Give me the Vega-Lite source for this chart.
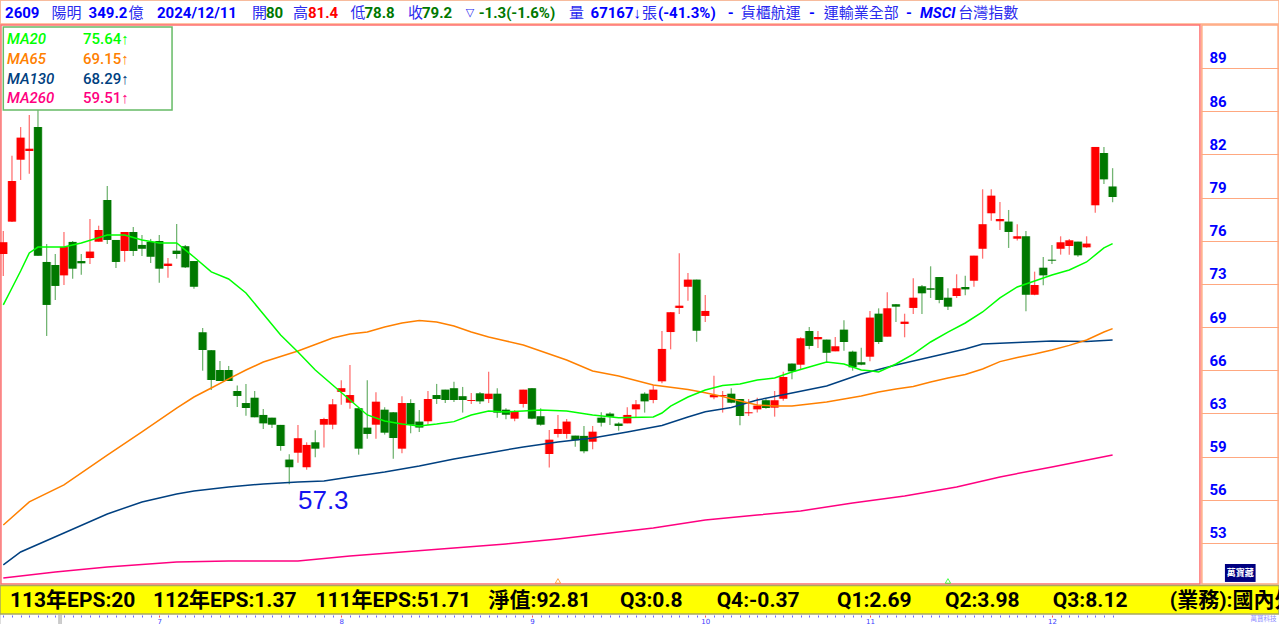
{
  "$schema": "https://vega.github.io/schema/vega-lite/v6.json",
  "description": "2609 daily candlesticks with MA20, MA65, MA130 and MA260",
  "width": 1279,
  "height": 624,
  "padding": 0,
  "autosize": "none",
  "background": "#ffffff",
  "datasets": {
    "candles": [
      {"session":0,"open":74.85,"high":76.6,"low":73.17,"close":75.74,"dir":"up"},
      {"session":1,"open":77.32,"high":82.35,"low":77.29,"close":80.42,"dir":"up"},
      {"session":2,"open":82.05,"high":84.54,"low":80.5,"close":83.73,"dir":"up"},
      {"session":3,"open":82.71,"high":85.46,"low":80.98,"close":82.89,"dir":"up"},
      {"session":4,"open":84.54,"high":86.22,"low":74.72,"close":74.72,"dir":"down"},
      {"session":5,"open":74.24,"high":75.61,"low":68.59,"close":70.96,"dir":"down"},
      {"session":6,"open":74.01,"high":74.85,"low":71.34,"close":72.41,"dir":"down"},
      {"session":7,"open":73.22,"high":76.53,"low":72.48,"close":75.38,"dir":"up"},
      {"session":8,"open":75.77,"high":75.84,"low":72.96,"close":73.73,"dir":"down"},
      {"session":9,"open":74.31,"high":74.85,"low":73.27,"close":74.14,"dir":"down"},
      {"session":10,"open":74.54,"high":77.52,"low":74.09,"close":75.03,"dir":"up"},
      {"session":11,"open":75.79,"high":77.01,"low":75.79,"close":76.68,"dir":"up"},
      {"session":12,"open":78.97,"high":80.04,"low":75.61,"close":75.92,"dir":"down"},
      {"session":13,"open":75.92,"high":75.92,"low":73.78,"close":74.24,"dir":"down"},
      {"session":14,"open":75.08,"high":76.53,"low":74.26,"close":76.53,"dir":"up"},
      {"session":15,"open":76.53,"high":76.91,"low":74.7,"close":75.08,"dir":"down"},
      {"session":16,"open":75.54,"high":76.3,"low":74.7,"close":75.25,"dir":"down"},
      {"session":17,"open":75.77,"high":76.0,"low":74.16,"close":74.64,"dir":"down"},
      {"session":18,"open":75.84,"high":76.3,"low":72.66,"close":73.73,"dir":"down"},
      {"session":19,"open":73.93,"high":74.54,"low":73.04,"close":74.11,"dir":"up"},
      {"session":20,"open":75.1,"high":77.14,"low":74.49,"close":74.85,"dir":"down"},
      {"session":21,"open":75.44,"high":75.54,"low":73.78,"close":73.83,"dir":"down"},
      {"session":22,"open":74.31,"high":74.31,"low":72.2,"close":72.35,"dir":"down"},
      {"session":23,"open":68.87,"high":69.2,"low":65.94,"close":67.52,"dir":"down"},
      {"session":24,"open":67.5,"high":67.52,"low":64.47,"close":65.23,"dir":"down"},
      {"session":25,"open":65.99,"high":66.68,"low":65.15,"close":65.15,"dir":"down"},
      {"session":26,"open":65.99,"high":66.3,"low":65.15,"close":65.15,"dir":"down"},
      {"session":27,"open":64.39,"high":64.8,"low":63.17,"close":64.01,"dir":"down"},
      {"session":28,"open":63.47,"high":64.93,"low":62.5,"close":63.09,"dir":"down"},
      {"session":29,"open":63.88,"high":64.39,"low":62.38,"close":62.38,"dir":"down"},
      {"session":30,"open":62.56,"high":63.02,"low":61.49,"close":61.92,"dir":"down"},
      {"session":31,"open":62.35,"high":62.35,"low":61.57,"close":61.82,"dir":"down"},
      {"session":32,"open":61.8,"high":61.8,"low":59.83,"close":60.19,"dir":"down"},
      {"session":33,"open":59.15,"high":59.56,"low":57.27,"close":58.57,"dir":"down"},
      {"session":34,"open":59.68,"high":61.8,"low":58.92,"close":60.78,"dir":"up"},
      {"session":35,"open":58.57,"high":60.47,"low":58.38,"close":60.27,"dir":"up"},
      {"session":36,"open":60.47,"high":61.39,"low":59.33,"close":59.99,"dir":"down"},
      {"session":37,"open":61.82,"high":62.35,"low":60.07,"close":62.25,"dir":"up"},
      {"session":38,"open":61.82,"high":63.78,"low":61.47,"close":63.37,"dir":"up"},
      {"session":39,"open":64.32,"high":65.21,"low":63.34,"close":64.6,"dir":"up"},
      {"session":40,"open":63.5,"high":66.38,"low":63.04,"close":64.08,"dir":"up"},
      {"session":41,"open":63.07,"high":63.09,"low":59.53,"close":59.99,"dir":"down"},
      {"session":42,"open":61.59,"high":65.21,"low":60.75,"close":61.11,"dir":"down"},
      {"session":43,"open":61.82,"high":64.29,"low":60.75,"close":63.57,"dir":"up"},
      {"session":44,"open":62.96,"high":63.15,"low":61.06,"close":61.21,"dir":"down"},
      {"session":45,"open":62.76,"high":62.79,"low":59.22,"close":60.8,"dir":"down"},
      {"session":46,"open":59.99,"high":63.98,"low":59.63,"close":63.47,"dir":"up"},
      {"session":47,"open":63.47,"high":63.76,"low":61.16,"close":61.82,"dir":"down"},
      {"session":48,"open":62.05,"high":62.94,"low":61.26,"close":61.6,"dir":"down"},
      {"session":49,"open":62.08,"high":64.39,"low":61.8,"close":63.78,"dir":"up"},
      {"session":50,"open":64.08,"high":64.93,"low":63.4,"close":63.78,"dir":"down"},
      {"session":51,"open":64.49,"high":64.49,"low":63.47,"close":63.7,"dir":"down"},
      {"session":52,"open":64.6,"high":65.1,"low":63.55,"close":63.7,"dir":"down"},
      {"session":53,"open":63.99,"high":64.7,"low":62.74,"close":63.7,"dir":"down"},
      {"session":54,"open":63.63,"high":64.24,"low":63.4,"close":63.7,"dir":"up"},
      {"session":55,"open":64.21,"high":64.31,"low":63.4,"close":63.6,"dir":"down"},
      {"session":56,"open":63.78,"high":65.86,"low":63.47,"close":64.18,"dir":"up"},
      {"session":57,"open":64.18,"high":64.6,"low":62.35,"close":62.74,"dir":"down"},
      {"session":58,"open":62.96,"high":63.07,"low":62.23,"close":62.58,"dir":"down"},
      {"session":59,"open":62.28,"high":62.94,"low":62.08,"close":62.81,"dir":"up"},
      {"session":60,"open":63.4,"high":64.49,"low":63.12,"close":64.49,"dir":"up"},
      {"session":61,"open":64.6,"high":64.62,"low":62.23,"close":62.28,"dir":"down"},
      {"session":62,"open":62.46,"high":63.07,"low":61.74,"close":61.82,"dir":"down"},
      {"session":63,"open":59.58,"high":61.41,"low":58.54,"close":60.67,"dir":"up"},
      {"session":64,"open":61.11,"high":62.56,"low":60.83,"close":61.49,"dir":"up"},
      {"session":65,"open":61.11,"high":62.25,"low":60.75,"close":62.05,"dir":"up"},
      {"session":66,"open":60.98,"high":60.98,"low":60.14,"close":60.63,"dir":"down"},
      {"session":67,"open":60.96,"high":61.72,"low":59.63,"close":59.79,"dir":"down"},
      {"session":68,"open":60.52,"high":61.72,"low":59.94,"close":61.28,"dir":"up"},
      {"session":69,"open":62.35,"high":62.76,"low":61.67,"close":61.97,"dir":"down"},
      {"session":70,"open":62.66,"high":62.76,"low":61.8,"close":62.43,"dir":"down"},
      {"session":71,"open":61.9,"high":62.0,"low":61.36,"close":61.72,"dir":"down"},
      {"session":72,"open":61.92,"high":63.15,"low":61.92,"close":62.56,"dir":"up"},
      {"session":73,"open":62.99,"high":63.7,"low":62.38,"close":63.37,"dir":"up"},
      {"session":74,"open":64.18,"high":64.29,"low":62.74,"close":63.6,"dir":"down"},
      {"session":75,"open":63.7,"high":64.85,"low":63.45,"close":64.49,"dir":"up"},
      {"session":76,"open":65.13,"high":68.97,"low":64.98,"close":67.6,"dir":"up"},
      {"session":77,"open":68.89,"high":70.42,"low":67.57,"close":70.4,"dir":"up"},
      {"session":78,"open":70.73,"high":74.9,"low":70.27,"close":70.9,"dir":"up"},
      {"session":79,"open":72.35,"high":73.4,"low":71.28,"close":72.89,"dir":"up"},
      {"session":80,"open":72.89,"high":72.89,"low":68.15,"close":68.99,"dir":"down"},
      {"session":81,"open":70.12,"high":71.72,"low":69.66,"close":70.5,"dir":"up"},
      {"session":82,"open":63.91,"high":65.56,"low":63.76,"close":64.08,"dir":"up"},
      {"session":83,"open":64.01,"high":64.39,"low":62.74,"close":64.08,"dir":"up"},
      {"session":84,"open":64.18,"high":64.6,"low":63.45,"close":63.5,"dir":"down"},
      {"session":85,"open":63.78,"high":63.78,"low":61.77,"close":62.48,"dir":"down"},
      {"session":86,"open":62.69,"high":63.78,"low":62.48,"close":62.76,"dir":"up"},
      {"session":87,"open":62.99,"high":63.88,"low":62.74,"close":63.27,"dir":"up"},
      {"session":88,"open":63.68,"high":63.78,"low":63.04,"close":63.09,"dir":"down"},
      {"session":89,"open":63.12,"high":64.39,"low":62.43,"close":63.68,"dir":"up"},
      {"session":90,"open":63.8,"high":65.86,"low":63.65,"close":65.46,"dir":"up"},
      {"session":91,"open":66.48,"high":66.48,"low":65.28,"close":65.89,"dir":"down"},
      {"session":92,"open":66.4,"high":68.49,"low":65.99,"close":68.41,"dir":"up"},
      {"session":93,"open":68.97,"high":69.28,"low":67.57,"close":67.83,"dir":"down"},
      {"session":94,"open":68.34,"high":68.97,"low":67.67,"close":68.51,"dir":"up"},
      {"session":95,"open":68.31,"high":68.31,"low":66.6,"close":67.31,"dir":"down"},
      {"session":96,"open":67.42,"high":68.51,"low":67.42,"close":67.8,"dir":"up"},
      {"session":97,"open":69.07,"high":69.79,"low":67.47,"close":68.13,"dir":"down"},
      {"session":98,"open":67.39,"high":67.47,"low":65.94,"close":66.2,"dir":"down"},
      {"session":99,"open":66.58,"high":67.7,"low":66.35,"close":66.4,"dir":"down"},
      {"session":100,"open":67.01,"high":70.5,"low":66.66,"close":69.99,"dir":"up"},
      {"session":101,"open":70.29,"high":70.7,"low":67.98,"close":68.13,"dir":"down"},
      {"session":102,"open":68.54,"high":71.92,"low":68.54,"close":70.7,"dir":"up"},
      {"session":103,"open":71.01,"high":71.03,"low":69.66,"close":70.83,"dir":"down"},
      {"session":104,"open":69.51,"high":70.29,"low":68.49,"close":69.68,"dir":"up"},
      {"session":105,"open":70.73,"high":72.99,"low":70.27,"close":71.51,"dir":"up"},
      {"session":106,"open":72.38,"high":72.48,"low":70.27,"close":71.85,"dir":"down"},
      {"session":107,"open":72.23,"high":73.91,"low":71.49,"close":72.12,"dir":"down"},
      {"session":108,"open":73.09,"high":73.09,"low":71.09,"close":71.34,"dir":"down"},
      {"session":109,"open":71.51,"high":72.23,"low":70.58,"close":70.83,"dir":"down"},
      {"session":110,"open":71.64,"high":73.3,"low":71.49,"close":72.23,"dir":"up"},
      {"session":111,"open":72.33,"high":73.19,"low":71.7,"close":72.15,"dir":"down"},
      {"session":112,"open":72.81,"high":74.72,"low":72.35,"close":74.72,"dir":"up"},
      {"session":113,"open":75.25,"high":79.79,"low":74.49,"close":77.12,"dir":"up"},
      {"session":114,"open":77.96,"high":79.79,"low":77.39,"close":79.3,"dir":"up"},
      {"session":115,"open":77.35,"high":78.82,"low":76.68,"close":77.52,"dir":"up"},
      {"session":116,"open":77.32,"high":78.21,"low":75.31,"close":76.53,"dir":"down"},
      {"session":117,"open":76.02,"high":77.12,"low":75.87,"close":76.2,"dir":"up"},
      {"session":118,"open":76.2,"high":76.61,"low":70.48,"close":71.74,"dir":"down"},
      {"session":119,"open":71.74,"high":73.5,"low":71.7,"close":72.48,"dir":"up"},
      {"session":120,"open":73.8,"high":74.62,"low":72.46,"close":73.22,"dir":"down"},
      {"session":121,"open":74.41,"high":75.54,"low":74.09,"close":74.34,"dir":"down"},
      {"session":122,"open":75.25,"high":76.2,"low":74.8,"close":75.74,"dir":"up"},
      {"session":123,"open":75.46,"high":76.0,"low":74.8,"close":75.89,"dir":"up"},
      {"session":124,"open":75.79,"high":75.79,"low":74.64,"close":74.75,"dir":"down"},
      {"session":125,"open":75.36,"high":76.2,"low":75.31,"close":75.64,"dir":"up"},
      {"session":126,"open":78.57,"high":83.02,"low":78.0,"close":83.02,"dir":"up"},
      {"session":127,"open":82.56,"high":83.02,"low":80.19,"close":80.55,"dir":"down"},
      {"session":128,"open":80.0,"high":81.4,"low":78.8,"close":79.2,"dir":"down"}
    ],
    "averages": [
      {"line":"MA260","session":0,"price":50.11},{"line":"MA260","session":6,"price":50.57},{"line":"MA260","session":12,"price":50.95},{"line":"MA260","session":20,"price":51.34},{"line":"MA260","session":26,"price":51.41},{"line":"MA260","session":34,"price":51.41},{"line":"MA260","session":40,"price":51.79},{"line":"MA260","session":46,"price":52.1},{"line":"MA260","session":52,"price":52.4},{"line":"MA260","session":58,"price":52.71},{"line":"MA260","session":64,"price":53.09},{"line":"MA260","session":69,"price":53.47},{"line":"MA260","session":75,"price":53.93},{"line":"MA260","session":81,"price":54.54},{"line":"MA260","session":87,"price":54.92},{"line":"MA260","session":92,"price":55.23},{"line":"MA260","session":98,"price":55.84},{"line":"MA260","session":104,"price":56.38},{"line":"MA260","session":110,"price":57.06},{"line":"MA260","session":115,"price":57.83},{"line":"MA260","session":121,"price":58.59},{"line":"MA260","session":128,"price":59.51},
      {"line":"MA130","session":0,"price":51.11},{"line":"MA130","session":2,"price":52.1},{"line":"MA130","session":7,"price":53.55},{"line":"MA130","session":12,"price":55.0},{"line":"MA130","session":16,"price":55.92},{"line":"MA130","session":20,"price":56.53},{"line":"MA130","session":22,"price":56.76},{"line":"MA130","session":26,"price":57.06},{"line":"MA130","session":30,"price":57.29},{"line":"MA130","session":34,"price":57.44},{"line":"MA130","session":37,"price":57.52},{"line":"MA130","session":40,"price":57.83},{"line":"MA130","session":44,"price":58.21},{"line":"MA130","session":48,"price":58.67},{"line":"MA130","session":52,"price":59.2},{"line":"MA130","session":56,"price":59.66},{"line":"MA130","session":60,"price":60.12},{"line":"MA130","session":64,"price":60.5},{"line":"MA130","session":68,"price":60.8},{"line":"MA130","session":72,"price":61.26},{"line":"MA130","session":76,"price":61.76},{"line":"MA130","session":79,"price":62.41},{"line":"MA130","session":81,"price":62.81},{"line":"MA130","session":84,"price":63.13},{"line":"MA130","session":87,"price":63.7},{"line":"MA130","session":91,"price":64.24},{"line":"MA130","session":95,"price":64.77},{"line":"MA130","session":99,"price":65.69},{"line":"MA130","session":103,"price":66.38},{"line":"MA130","session":107,"price":66.99},{"line":"MA130","session":111,"price":67.6},{"line":"MA130","session":113,"price":67.98},{"line":"MA130","session":117,"price":68.09},{"line":"MA130","session":121,"price":68.21},{"line":"MA130","session":125,"price":68.17},{"line":"MA130","session":128,"price":68.29},
      {"line":"MA65","session":0,"price":54.16},{"line":"MA65","session":3,"price":55.92},{"line":"MA65","session":7,"price":57.22},{"line":"MA65","session":12,"price":59.5},{"line":"MA65","session":16,"price":61.26},{"line":"MA65","session":20,"price":63.09},{"line":"MA65","session":22,"price":63.93},{"line":"MA65","session":24,"price":64.62},{"line":"MA65","session":26,"price":65.31},{"line":"MA65","session":28,"price":65.99},{"line":"MA65","session":30,"price":66.6},{"line":"MA65","session":34,"price":67.44},{"line":"MA65","session":38,"price":68.44},{"line":"MA65","session":40,"price":68.74},{"line":"MA65","session":42,"price":68.89},{"line":"MA65","session":44,"price":69.28},{"line":"MA65","session":46,"price":69.58},{"line":"MA65","session":48,"price":69.77},{"line":"MA65","session":50,"price":69.66},{"line":"MA65","session":52,"price":69.35},{"line":"MA65","session":54,"price":68.89},{"line":"MA65","session":56,"price":68.51},{"line":"MA65","session":58,"price":68.21},{"line":"MA65","session":60,"price":67.9},{"line":"MA65","session":62,"price":67.44},{"line":"MA65","session":65,"price":66.76},{"line":"MA65","session":68,"price":65.92},{"line":"MA65","session":71,"price":65.54},{"line":"MA65","session":75,"price":64.85},{"line":"MA65","session":79,"price":64.5},{"line":"MA65","session":81,"price":64.26},{"line":"MA65","session":83,"price":63.97},{"line":"MA65","session":85,"price":63.63},{"line":"MA65","session":87,"price":63.32},{"line":"MA65","session":89,"price":63.24},{"line":"MA65","session":91,"price":63.24},{"line":"MA65","session":93,"price":63.4},{"line":"MA65","session":95,"price":63.55},{"line":"MA65","session":97,"price":63.78},{"line":"MA65","session":99,"price":64.01},{"line":"MA65","session":101,"price":64.31},{"line":"MA65","session":103,"price":64.54},{"line":"MA65","session":105,"price":64.73},{"line":"MA65","session":107,"price":65.08},{"line":"MA65","session":109,"price":65.38},{"line":"MA65","session":111,"price":65.65},{"line":"MA65","session":113,"price":66.07},{"line":"MA65","session":115,"price":66.63},{"line":"MA65","session":117,"price":66.95},{"line":"MA65","session":119,"price":67.21},{"line":"MA65","session":121,"price":67.52},{"line":"MA65","session":123,"price":67.87},{"line":"MA65","session":125,"price":68.28},{"line":"MA65","session":127,"price":68.89},{"line":"MA65","session":128,"price":69.15},
      {"line":"MA20","session":0,"price":70.96},{"line":"MA20","session":1,"price":72.25},{"line":"MA20","session":2,"price":73.55},{"line":"MA20","session":3,"price":74.93},{"line":"MA20","session":4,"price":75.38},{"line":"MA20","session":5,"price":75.38},{"line":"MA20","session":7,"price":75.38},{"line":"MA20","session":9,"price":75.69},{"line":"MA20","session":12,"price":76.3},{"line":"MA20","session":14,"price":76.3},{"line":"MA20","session":16,"price":75.92},{"line":"MA20","session":18,"price":75.69},{"line":"MA20","session":20,"price":75.69},{"line":"MA20","session":22,"price":74.62},{"line":"MA20","session":24,"price":73.48},{"line":"MA20","session":26,"price":72.94},{"line":"MA20","session":28,"price":71.87},{"line":"MA20","session":30,"price":70.27},{"line":"MA20","session":32,"price":68.67},{"line":"MA20","session":34,"price":67.37},{"line":"MA20","session":36,"price":65.99},{"line":"MA20","session":38,"price":64.85},{"line":"MA20","session":40,"price":63.7},{"line":"MA20","session":42,"price":62.56},{"line":"MA20","session":44,"price":62.1},{"line":"MA20","session":46,"price":61.87},{"line":"MA20","session":48,"price":61.72},{"line":"MA20","session":50,"price":61.87},{"line":"MA20","session":52,"price":62.05},{"line":"MA20","session":54,"price":62.56},{"line":"MA20","session":56,"price":62.86},{"line":"MA20","session":58,"price":62.79},{"line":"MA20","session":60,"price":62.86},{"line":"MA20","session":62,"price":62.94},{"line":"MA20","session":65,"price":62.86},{"line":"MA20","session":68,"price":62.56},{"line":"MA20","session":71,"price":62.35},{"line":"MA20","session":75,"price":62.41},{"line":"MA20","session":76,"price":62.71},{"line":"MA20","session":77,"price":63.24},{"line":"MA20","session":79,"price":63.93},{"line":"MA20","session":81,"price":64.47},{"line":"MA20","session":83,"price":64.8},{"line":"MA20","session":85,"price":64.93},{"line":"MA20","session":87,"price":65.23},{"line":"MA20","session":89,"price":65.38},{"line":"MA20","session":91,"price":65.84},{"line":"MA20","session":93,"price":66.22},{"line":"MA20","session":95,"price":66.6},{"line":"MA20","session":97,"price":66.45},{"line":"MA20","session":99,"price":65.99},{"line":"MA20","session":100,"price":65.94},{"line":"MA20","session":101,"price":65.84},{"line":"MA20","session":103,"price":66.45},{"line":"MA20","session":105,"price":67.21},{"line":"MA20","session":107,"price":68.13},{"line":"MA20","session":109,"price":68.89},{"line":"MA20","session":111,"price":69.58},{"line":"MA20","session":113,"price":70.42},{"line":"MA20","session":115,"price":71.49},{"line":"MA20","session":117,"price":72.33},{"line":"MA20","session":119,"price":72.79},{"line":"MA20","session":121,"price":73.25},{"line":"MA20","session":123,"price":73.63},{"line":"MA20","session":125,"price":74.24},{"line":"MA20","session":127,"price":75.31},{"line":"MA20","session":128,"price":75.64}
    ],
    "fills": [
      {"part":"footerFill","session":-0.38,"session2":147.2,"price":49.54,"price2":47.37}
    ],
    "outlines": [
      {"part":"headerBorder","session":-0.38,"session2":147.2,"price":94.24,"price2":92.4},
      {"part":"plotFrame","session":-0.27,"session2":138.08,"price":92.33,"price2":49.66},
      {"part":"columnFrame","session":138.3,"session2":147.1,"price":92.33,"price2":49.66},
      {"part":"footerBorder","session":-0.38,"session2":147.2,"price":49.54,"price2":47.37}
    ],
    "legendBox": [
      {"session":0,"session2":19.47,"price":92.18,"price2":85.84}
    ],
    "legendRows": [
      {"line":"MA20","value":"75.64↑","session":0.43,"session2":9.2,"price":91.26},
      {"line":"MA65","value":"69.15↑","session":0.43,"session2":9.2,"price":89.74},
      {"line":"MA130","value":"68.29↑","session":0.43,"session2":9.2,"price":88.21},
      {"line":"MA260","value":"59.51↑","session":0.43,"session2":9.2,"price":86.76}
    ],
    "logo": [
      {"part":"logo","session":140.96,"session2":144.5,"price":51.18,"price2":49.81}
    ],
    "gaps": [
      {"line":"MA65","session":64,"price":49.89},
      {"line":"MA20","session":109,"price":49.89}
    ],
    "marker": [
      {"part":"marker","session":6.43,"price":47.29,"price2":46.6},
      {"part":"marker","session":6.66,"price":47.29,"price2":46.6}
    ],
    "headerBold": [
      {"label":"2609","tone":"blue","session":0.2,"price":93.25},
      {"label":"349.2","tone":"blue","session":9.84,"price":93.25},
      {"label":"2024/12/11","tone":"blue","session":17.73,"price":93.25},
      {"label":"80","tone":"down","session":30.31,"price":93.25},
      {"label":"81.4","tone":"up","session":35.15,"price":93.25},
      {"label":"78.8","tone":"down","session":41.67,"price":93.25},
      {"label":"79.2","tone":"down","session":48.31,"price":93.25},
      {"label":"-1.3(-1.6%)","tone":"down","session":54.85,"price":93.25},
      {"label":"67167↓","tone":"blue","session":67.76,"price":93.25},
      {"label":"(-41.3%)","tone":"blue","session":75.54,"price":93.25},
      {"label":"-","tone":"blue","session":83.59,"price":93.25},
      {"label":"-","tone":"blue","session":92.96,"price":93.25},
      {"label":"-","tone":"blue","session":104.15,"price":93.25}
    ],
    "headerItalic": [
      {"label":"MSCI","tone":"blue","session":105.77,"price":93.25}
    ],
    "headerPlain": [
      {"label":"陽明","tone":"cjk","session":5.55,"price":93.25},
      {"label":"億","tone":"cjk","session":14.46,"price":93.25},
      {"label":"開","tone":"cjk","session":28.69,"price":93.25},
      {"label":"高","tone":"cjk","session":33.43,"price":93.25},
      {"label":"低","tone":"cjk","session":40.07,"price":93.25},
      {"label":"收","tone":"cjk","session":46.69,"price":93.25},
      {"label":"量","tone":"cjk","session":65.27,"price":93.25},
      {"label":"張","tone":"cjk","session":73.69,"price":93.25},
      {"label":"貨櫃航運","tone":"cjk","session":85.09,"price":93.25},
      {"label":"運輸業全部","tone":"cjk","session":94.66,"price":93.25},
      {"label":"台灣指數","tone":"cjk","session":110.2,"price":93.25}
    ],
    "headerSymbol": [
      {"label":"▽","tone":"cjk","session":53.35,"price":93.25}
    ],
    "footer": [
      {"label":"113年EPS:20","session":0.77,"price":48.36},
      {"label":"112年EPS:1.37","session":17.27,"price":48.36},
      {"label":"111年EPS:51.71","session":36.02,"price":48.36},
      {"label":"淨值:92.81","session":55.99,"price":48.36},
      {"label":"Q3:0.8","session":71.15,"price":48.36},
      {"label":"Q4:-0.37","session":82.31,"price":48.36},
      {"label":"Q1:2.69","session":96.19,"price":48.36},
      {"label":"Q2:3.98","session":108.65,"price":48.36},
      {"label":"Q3:8.12","session":121.1,"price":48.36},
      {"label":"(業務):國內外","session":134.6,"price":48.36}
    ],
    "lowNote": [
      {"label":"57.3","tone":"note","session":34,"price":56.0}
    ],
    "logoText": [
      {"label":"萬寶藏","session":142.73,"price":50.5}
    ],
    "maker": [
      {"label":"萬寶科技","session":143.9,"price":46.98}
    ]
  },
  "encoding": {
    "x": {
      "field": "session",
      "type": "quantitative",
      "scale": {"domain": [-0.381, 147.2], "nice": false, "zero": false, "padding": 0},
      "axis": {
        "orient": "bottom",
        "offset": -9,
        "title": null,
        "grid": false,
        "domain": false,
        "tickSize": 2,
        "tickColor": {"condition": {"test": "indexof([18,39,61,81,100,121], datum.value) >= 0", "value": "#ff5050"}, "value": "#6a6aff"},
        "labelColor": "#3c3cff",
        "labelFontSize": 7,
        "labelFont": "DejaVu Sans",
        "labelPadding": 0,
        "labelOverlap": false,
        "values": [0,1,2,3,4,5,6,7,8,9,10,11,12,13,14,15,16,17,18,19,20,21,22,23,24,25,26,27,28,29,30,31,32,33,34,35,36,37,38,39,40,41,42,43,44,45,46,47,48,49,50,51,52,53,54,55,56,57,58,59,60,61,62,63,64,65,66,67,68,69,70,71,72,73,74,75,76,77,78,79,80,81,82,83,84,85,86,87,88,89,90,91,92,93,94,95,96,97,98,99,100,101,102,103,104,105,106,107,108,109,110,111,112,113,114,115,116,117,118,119,120,121,122,123,124,125,126,127,128],
        "labelExpr": "{'18':'7','39':'8','61':'9','81':'10','100':'11','121':'12'}[datum.value] || ''"
      }
    },
    "y": {
      "field": "price",
      "type": "quantitative",
      "scale": {"domain": [46.6, 94.24], "nice": false, "zero": false, "padding": 0},
      "axis": {
        "orient": "right",
        "offset": -78,
        "title": null,
        "grid": false,
        "domain": false,
        "ticks": true,
        "tickSize": 78,
        "tickWidth": 1.2,
        "tickColor": "#ffa880",
        "labelPadding": -70,
        "labelAlign": "left",
        "labelBaseline": "bottom",
        "labelOffset": -2,
        "labelFont": "Roboto",
        "labelFontWeight": "bold",
        "labelFontSize": 15,
        "labelColor": "#0000ff",
        "labelOverlap": false,
        "values": [89.05,85.75,82.46,79.16,75.87,72.57,69.27,65.97,62.68,59.38,56.08,52.79],
        "format": ".0f"
      }
    },
    "color": {
      "field": "part",
      "type": "nominal",
      "legend": null,
      "scale": {
        "domain": ["up","down","MA20","MA65","MA130","MA260","footerFill","headerBorder","plotFrame","columnFrame","footerBorder","logo","marker","blue","cjk","note"],
        "range": ["#ff0000","#007800","#00ff00","#ff8000","#004080","#ff0080","#ffff00","#ffb088","#ff7070","#ffa880","#a8a860","#000080","#999999","#0000ff","#2a2aee","#1414f0"]
      }
    }
  },
  "layer": [
    {
      "data": {"name": "fills"},
      "mark": {"type": "rect"},
      "encoding": {"x2": {"field": "session2"}, "y2": {"field": "price2"}}
    },
    {
      "data": {"name": "outlines"},
      "mark": {"type": "rect", "filled": false, "strokeWidth": 1.5},
      "encoding": {"x2": {"field": "session2"}, "y2": {"field": "price2"}}
    },
    {
      "data": {"name": "marker"},
      "mark": {"type": "rule", "strokeWidth": 1},
      "encoding": {"y2": {"field": "price2"}}
    },
    {
      "data": {"name": "candles"},
      "mark": {"type": "rule", "strokeWidth": 1.3, "opacity": 0.55},
      "encoding": {
        "y": {"field": "low", "type": "quantitative"},
        "y2": {"field": "high"},
        "color": {"field": "dir", "type": "nominal", "legend": null}
      }
    },
    {
      "data": {"name": "candles"},
      "mark": {"type": "bar", "width": 9.4, "opacity": 0.25},
      "encoding": {
        "y": {"field": "open", "type": "quantitative"},
        "y2": {"field": "close"},
        "color": {"field": "dir", "type": "nominal", "legend": null}
      }
    },
    {
      "data": {"name": "candles"},
      "mark": {"type": "bar", "width": 7.8},
      "encoding": {
        "y": {"field": "open", "type": "quantitative"},
        "y2": {"field": "close"},
        "color": {"field": "dir", "type": "nominal", "legend": null}
      }
    },
    {
      "data": {"name": "averages"},
      "mark": {"type": "line", "strokeWidth": 1.5},
      "encoding": {"color": {"field": "line", "type": "nominal", "legend": null}}
    },
    {
      "data": {"name": "legendBox"},
      "mark": {"type": "rect", "fill": "#ffffff", "stroke": "#66bb66", "strokeWidth": 1.5},
      "encoding": {"x2": {"field": "session2"}, "y2": {"field": "price2"}, "color": {"value": "#ffffff"}}
    },
    {
      "data": {"name": "legendRows"},
      "mark": {"type": "text", "align": "left", "baseline": "middle", "font": "Roboto", "fontSize": 15, "fontStyle": "italic", "fontWeight": 500},
      "encoding": {
        "text": {"field": "line"},
        "color": {"field": "line", "type": "nominal", "legend": null}
      }
    },
    {
      "data": {"name": "legendRows"},
      "mark": {"type": "text", "align": "left", "baseline": "middle", "font": "Roboto", "fontSize": 15, "fontWeight": 500},
      "encoding": {
        "x": {"field": "session2", "type": "quantitative"},
        "text": {"field": "value"},
        "color": {"field": "line", "type": "nominal", "legend": null}
      }
    },
    {
      "data": {"name": "gaps"},
      "mark": {"type": "point", "shape": "triangle-up", "size": 28, "filled": false, "strokeWidth": 1},
      "encoding": {"color": {"field": "line", "type": "nominal", "legend": null}}
    },
    {
      "data": {"name": "lowNote"},
      "mark": {"type": "text", "align": "left", "baseline": "middle", "font": "Liberation Sans", "fontSize": 26},
      "encoding": {
        "text": {"field": "label"},
        "color": {"field": "tone", "type": "nominal", "legend": null}
      }
    },
    {
      "data": {"name": "headerBold"},
      "mark": {"type": "text", "align": "left", "baseline": "middle", "font": "Roboto", "fontWeight": "bold", "fontSize": 15},
      "encoding": {
        "text": {"field": "label"},
        "color": {"field": "tone", "type": "nominal", "legend": null}
      }
    },
    {
      "data": {"name": "headerItalic"},
      "mark": {"type": "text", "align": "left", "baseline": "middle", "font": "Roboto", "fontWeight": "bold", "fontStyle": "italic", "fontSize": 15},
      "encoding": {
        "text": {"field": "label"},
        "color": {"field": "tone", "type": "nominal", "legend": null}
      }
    },
    {
      "data": {"name": "headerPlain"},
      "mark": {"type": "text", "align": "left", "baseline": "middle", "font": "Noto Sans CJK TC", "fontSize": 15},
      "encoding": {
        "text": {"field": "label"},
        "color": {"field": "tone", "type": "nominal", "legend": null}
      }
    },
    {
      "data": {"name": "headerSymbol"},
      "mark": {"type": "text", "align": "left", "baseline": "middle", "font": "DejaVu Sans", "fontSize": 11},
      "encoding": {
        "text": {"field": "label"},
        "color": {"field": "tone", "type": "nominal", "legend": null}
      }
    },
    {
      "data": {"name": "footer"},
      "mark": {"type": "text", "align": "left", "baseline": "middle", "font": "Roboto, Noto Sans CJK TC", "fontWeight": "bold", "fontSize": 21},
      "encoding": {"text": {"field": "label"}, "color": {"value": "#000000"}}
    },
    {
      "data": {"name": "logo"},
      "mark": {"type": "rect"},
      "encoding": {"x2": {"field": "session2"}, "y2": {"field": "price2"}}
    },
    {
      "data": {"name": "logoText"},
      "mark": {"type": "text", "align": "center", "baseline": "middle", "font": "Noto Sans CJK TC", "fontWeight": "bold", "fontSize": 9},
      "encoding": {"text": {"field": "label"}, "color": {"value": "#ffffff"}}
    },
    {
      "data": {"name": "maker"},
      "mark": {"type": "text", "align": "left", "baseline": "middle", "font": "Noto Sans CJK TC", "fontSize": 6.5},
      "encoding": {"text": {"field": "label"}, "color": {"value": "#8c8cff"}}
    }
  ]
}
